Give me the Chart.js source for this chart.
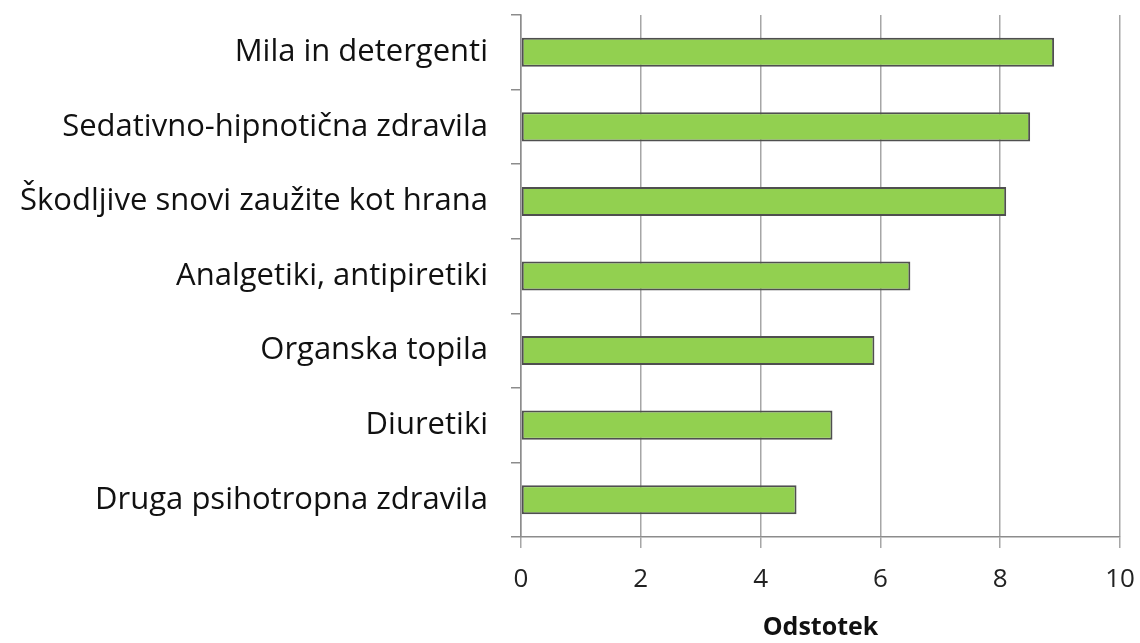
<!DOCTYPE html>
<html>
<head>
<meta charset="utf-8">
<script src="https://cdn.jsdelivr.net/npm/chart.js@4"></script>
<style>
  html, body { margin: 0; padding: 0; background: #fff; }
  #wrap { width: 1140px; height: 643px; }
</style>
</head>
<body>
<div id="wrap"><canvas id="chart" width="1140" height="643"></canvas></div>
<script>
const categories = [
    'Mila in detergenti',
    'Sedativno-hipnotična zdravila',
    'Škodljive snovi zaužite kot hrana',
    'Analgetiki, antipiretiki',
    'Organska topila',
    'Diuretiki',
    'Druga psihotropna zdravila'
];
const percentValues = [8.9, 8.5, 8.1, 6.5, 5.9, 5.2, 4.6];
const xTicks = [0, 2, 4, 6, 8, 10];
const axisTitle = 'Odstotek';

const fontFamily = "'Open Sans', sans-serif";

const ctx = document.getElementById('chart').getContext('2d');
new Chart(ctx, {
    type: 'bar',
    data: {
        labels: categories,
        datasets: [{
            data: percentValues,
            backgroundColor: '#92d050',
            borderColor: '#4f4f4f',
            borderWidth: 2,
            borderSkipped: false,
            barPercentage: 0.78,
            categoryPercentage: 0.5
        }]
    },
    options: {
        indexAxis: 'y',
        responsive: false,
        animation: false,
        layout: { padding: { top: 15, right: 20, left: 0, bottom: 0 } },
        plugins: {
            legend: { display: false },
            tooltip: { enabled: false }
        },
        scales: {
            x: {
                min: 0,
                max: 10,
                afterBuildTicks: (scale) => {
                    scale.ticks = xTicks.map(v => ({ value: v }));
                },
                grid: {
                    color: '#a6a6a6',
                    lineWidth: 1.5,
                    tickLength: 11,
                    drawTicks: true
                },
                border: { color: '#8c8c8c', width: 1.5 },
                ticks: {
                    color: '#222',
                    padding: 16,
                    font: { family: fontFamily, size: 26 }
                },
                title: {
                    display: true,
                    text: axisTitle,
                    color: '#111',
                    padding: { top: 0, bottom: 0 },
                    font: { family: fontFamily, size: 25, weight: 'bold' }
                },
                afterFit: (scale) => {
                    scale.height = 106;
                    scale.paddingLeft = 0;
                    scale.paddingRight = 0;
                }
            },
            y: {
                grid: {
                    offset: true,
                    drawOnChartArea: false,
                    drawTicks: true,
                    tickLength: 10,
                    color: '#8c8c8c',
                    lineWidth: 1.5
                },
                border: { color: '#8c8c8c', width: 1.5 },
                ticks: {
                    color: '#111',
                    padding: 23,
                    font: { family: fontFamily, size: 31 }
                },
                afterFit: (scale) => {
                    scale.width = 521;
                    scale.paddingTop = 0;
                    scale.paddingBottom = 0;
                }
            }
        }
    }
});
</script>
</body>
</html>
